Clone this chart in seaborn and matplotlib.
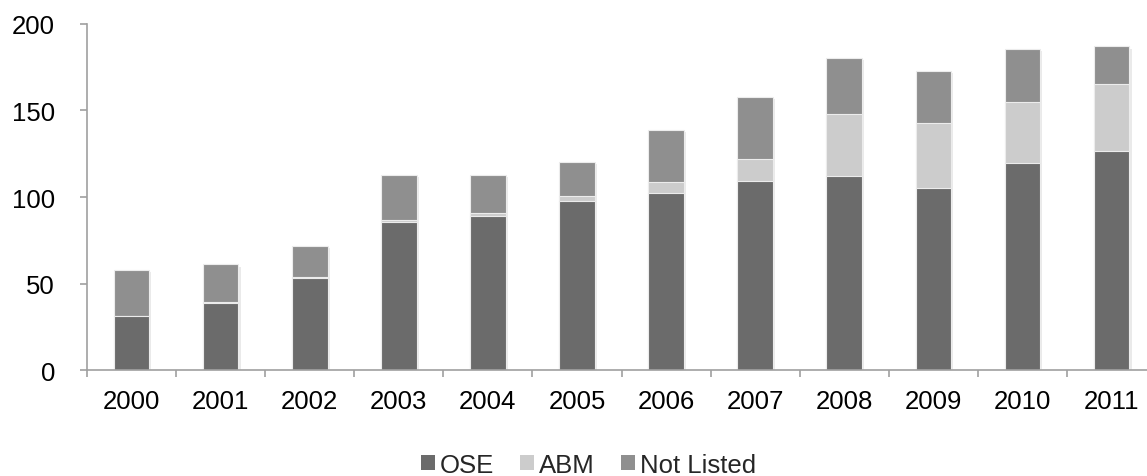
import numpy as np
import pandas as pd
import matplotlib
matplotlib.use("Agg")
import matplotlib.pyplot as plt
import matplotlib.patheffects as pe
from matplotlib.patches import Patch
from matplotlib.ticker import FixedLocator
import seaborn as sns

years = ["2000", "2001", "2002", "2003", "2004", "2005",
         "2006", "2007", "2008", "2009", "2010", "2011"]
ose = [31, 39, 53, 85.5, 89, 97.5, 102.5, 109, 112, 105, 119.5, 126.5]
abm = [0.5, 0.5, 0.5, 1, 1.5, 3, 6, 13, 36, 37.5, 35.5, 39]
not_listed = [26.5, 21.5, 18, 26, 22.5, 19.5, 30, 36, 32.5, 30.5, 30.5, 21.5]

series_names = ["OSE", "ABM", "Not Listed"]
colors = {"OSE": "#6b6b6b", "ABM": "#cccccc", "Not Listed": "#8f8f8f"}

sns.set_theme(style="white")
plt.rcParams["font.family"] = ["Liberation Sans", "DejaVu Sans"]
FS = 18.5

df = pd.DataFrame({"year": years, "OSE": ose, "ABM": abm, "Not Listed": not_listed})
df["lvl_abm"] = df["OSE"] + df["ABM"]
df["lvl_total"] = df["lvl_abm"] + df["Not Listed"]

fig = plt.figure(figsize=(11.47, 4.77), dpi=100)
ax = fig.add_axes([0.0758, 0.2222, 0.9322, 0.7254])

shadow = [pe.SimplePatchShadow(offset=(1.5, -1.5), alpha=0.12, shadow_rgbFace="#555555"), pe.Normal()]

# stacked bars drawn as cumulative layers, back to front
for col, name in [("lvl_total", "Not Listed"), ("lvl_abm", "ABM"), ("OSE", "OSE")]:
    sns.barplot(data=df, x="year", y=col, color=colors[name], width=0.4,
                edgecolor="#ececec", linewidth=0.8, saturation=1, ax=ax)

for p in ax.patches[:len(years)]:
    p.set_path_effects(shadow)

ax.set_xlim(-0.5, 11.5)
ax.set_ylim(0, 200)
ax.set_yticks([0, 50, 100, 150, 200])
ax.set_xlabel("")
ax.set_ylabel("")

for side in ["top", "right"]:
    ax.spines[side].set_visible(False)
for side in ["left", "bottom"]:
    ax.spines[side].set_color("#a0a0a0")
    ax.spines[side].set_linewidth(1.2)

ax.tick_params(axis="y", which="major", direction="out", length=5, width=1.2,
               color="#a0a0a0", labelsize=FS, pad=18, labelcolor="black", left=True)
ax.tick_params(axis="x", which="major", length=0, labelsize=FS, pad=14, labelcolor="black")
ax.xaxis.set_minor_locator(FixedLocator(np.arange(-0.5, 12, 1)))
ax.tick_params(axis="x", which="minor", direction="out", length=5, width=1.2,
               color="#a0a0a0", bottom=True)

handles = [Patch(facecolor=colors[n], edgecolor="none", label=n) for n in series_names]
fig.legend(handles=handles, loc="center", bbox_to_anchor=(0.513, 0.024), ncol=3,
           frameon=False, fontsize=FS, handlelength=0.55, handleheight=0.55,
           handletextpad=0.2, columnspacing=1.0, borderpad=0)

fig.savefig("out.png", dpi=100)
